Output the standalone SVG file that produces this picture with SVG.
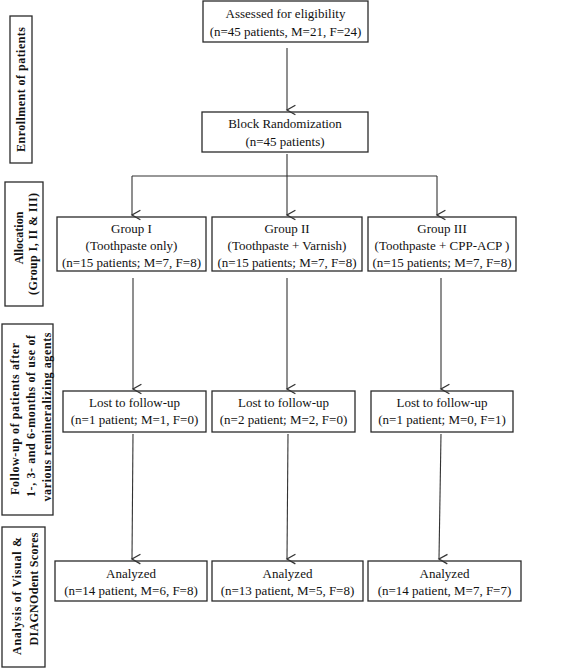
<svg xmlns="http://www.w3.org/2000/svg" width="567" height="668" viewBox="0 0 567 668">
<style>
.box{fill:#fff;stroke:#2a2a2a;stroke-width:1.3}
.t{font-family:"Liberation Serif","Times New Roman",serif;font-size:13px;fill:#111;text-anchor:middle}
.lab{font-family:"Liberation Serif","Times New Roman",serif;font-size:12px;font-weight:bold;fill:#111;text-anchor:middle}
.c{fill:none;stroke:#333;stroke-width:1.1}
</style>
<defs>
<marker id="arr" markerUnits="userSpaceOnUse" markerWidth="12" markerHeight="12" refX="5" refY="8" orient="auto-start-reverse" viewBox="0 0 10 10">
<path d="M1,1 L5,8 L9,1" fill="none" stroke="#333" stroke-width="1.1"/>
</marker>
</defs>
<rect width="567" height="668" fill="#fff"/>

<g id="label-enrollment">
<rect class="box" x="10" y="16" width="22" height="147"/>
<text class="lab" transform="translate(25,89.5) rotate(-90)" textLength="125" lengthAdjust="spacing">Enrollment of patients</text>
</g>
<g id="label-allocation">
<rect class="box" x="5" y="182" width="38" height="124"/>
<text class="lab" transform="translate(23,238) rotate(-90)">Allocation</text>
<text class="lab" transform="translate(37,244) rotate(-90)" textLength="102" lengthAdjust="spacing">(Group I, II &amp; III)</text>
</g>
<g id="label-followup">
<rect class="box" x="2" y="324" width="51" height="191"/>
<text class="lab" transform="translate(19,419) rotate(-90)" textLength="152" lengthAdjust="spacing">Follow-up of patients after</text>
<text class="lab" transform="translate(35,416) rotate(-90)" textLength="162" lengthAdjust="spacing">1-, 3- and 6-months of use of</text>
<text class="lab" transform="translate(51,417) rotate(-90)" textLength="169" lengthAdjust="spacing">various remineralizing agents</text>
</g>
<g id="label-analysis">
<rect class="box" x="2" y="527" width="43" height="140"/>
<text class="lab" transform="translate(21,596) rotate(-90)" textLength="118" lengthAdjust="spacing">Analysis of Visual &amp;</text>
<text class="lab" transform="translate(38,589) rotate(-90)" textLength="113" lengthAdjust="spacing">DIAGNOdent Scores</text>
</g>

<g id="assessed">
<rect class="box" x="203" y="1" width="165" height="41"/>
<text class="t" x="285.5" y="18">Assessed for eligibility</text>
<text class="t" x="285.5" y="36">(n=45 patients, M=21, F=24)</text>
</g>
<g id="randomization">
<rect class="box" x="202" y="112" width="166" height="40"/>
<text class="t" x="285" y="128">Block Randomization</text>
<text class="t" x="285" y="146">(n=45 patients)</text>
</g>

<g id="group1">
<rect class="box" x="57" y="217" width="149" height="54"/>
<text class="t" x="131.5" y="233">Group I</text>
<text class="t" x="131.5" y="250">(Toothpaste only)</text>
<text class="t" x="131.5" y="267">(n=15 patients; M=7, F=8)</text>
</g>
<g id="group2">
<rect class="box" x="212" y="217" width="150" height="54"/>
<text class="t" x="287" y="233">Group II</text>
<text class="t" x="287" y="250">(Toothpaste + Varnish)</text>
<text class="t" x="287" y="267">(n=15 patients; M=7, F=8)</text>
</g>
<g id="group3">
<rect class="box" x="368" y="217" width="148" height="54"/>
<text class="t" x="442" y="233">Group III</text>
<text class="t" x="442" y="250">(Toothpaste + CPP-ACP )</text>
<text class="t" x="442" y="267">(n=15 patients; M=7, F=8)</text>
</g>

<g id="lost1">
<rect class="box" x="63" y="391" width="143" height="41"/>
<text class="t" x="134.5" y="407">Lost to follow-up</text>
<text class="t" x="134.5" y="424">(n=1 patient; M=1, F=0)</text>
</g>
<g id="lost2">
<rect class="box" x="212" y="391" width="143" height="41"/>
<text class="t" x="283.5" y="407">Lost to follow-up</text>
<text class="t" x="283.5" y="424">(n=2 patient; M=2, F=0)</text>
</g>
<g id="lost3">
<rect class="box" x="371" y="391" width="142" height="41"/>
<text class="t" x="442" y="407">Lost to follow-up</text>
<text class="t" x="442" y="424">(n=1 patient; M=0, F=1)</text>
</g>

<g id="analyzed1">
<rect class="box" x="55" y="561" width="152" height="40"/>
<text class="t" x="131" y="578">Analyzed</text>
<text class="t" x="131" y="595">(n=14 patient, M=6, F=8)</text>
</g>
<g id="analyzed2">
<rect class="box" x="212" y="561" width="151" height="40"/>
<text class="t" x="287.5" y="578">Analyzed</text>
<text class="t" x="287.5" y="595">(n=13 patient, M=5, F=8)</text>
</g>
<g id="analyzed3">
<rect class="box" x="368" y="561" width="153" height="40"/>
<text class="t" x="444.5" y="578">Analyzed</text>
<text class="t" x="444.5" y="595">(n=14 patient, M=7, F=7)</text>
</g>

<g id="connectors">
<path class="c" d="M287,48 V110" marker-end="url(#arr)"/>
<path class="c" d="M287,154 V176 M132,176 H437"/>
<path class="c" d="M132,176 V215" marker-end="url(#arr)"/>
<path class="c" d="M287,176 V215" marker-end="url(#arr)"/>
<path class="c" d="M437,176 V215" marker-end="url(#arr)"/>
<path class="c" d="M133,278 V389" marker-end="url(#arr)"/>
<path class="c" d="M287,278 V389" marker-end="url(#arr)"/>
<path class="c" d="M441,278 V389" marker-end="url(#arr)"/>
<path class="c" d="M133,434 L132,559" marker-end="url(#arr)"/>
<path class="c" d="M288,434 L287,559" marker-end="url(#arr)"/>
<path class="c" d="M441,434 L439,559" marker-end="url(#arr)"/>
</g>
</svg>
